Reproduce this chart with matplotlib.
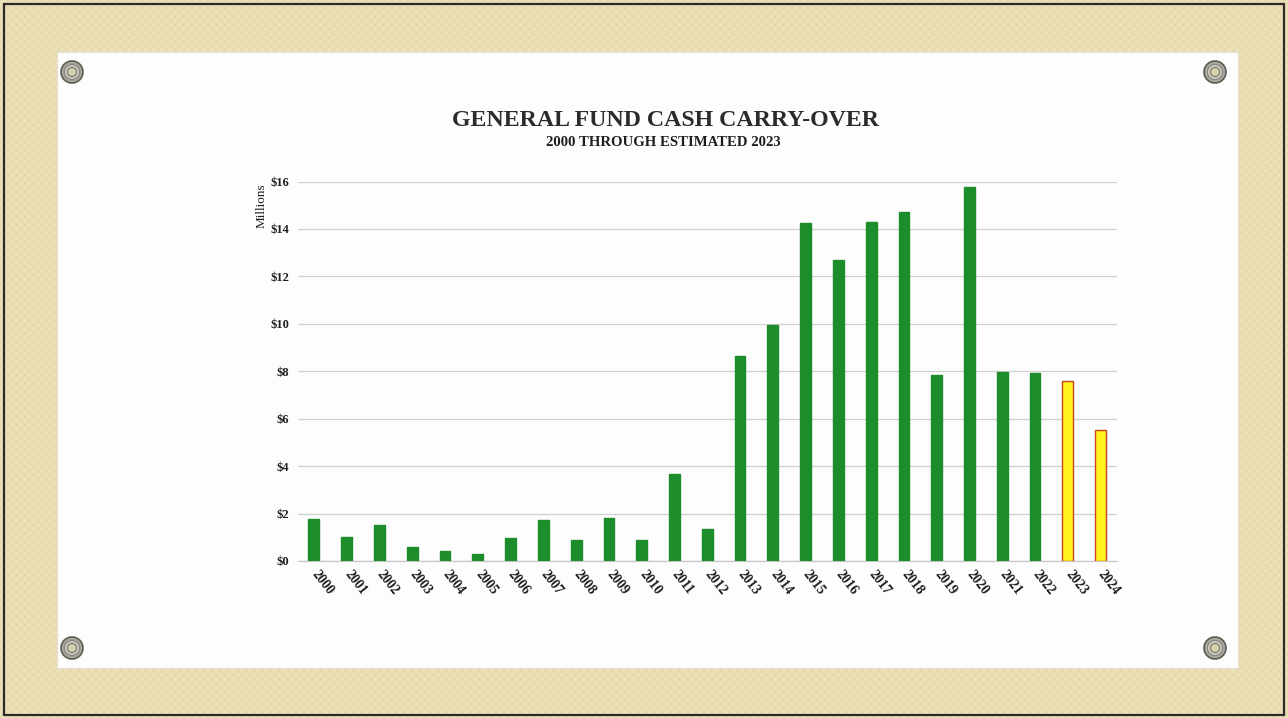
import matplotlib
matplotlib.use("Agg")
import matplotlib.pyplot as plt
from matplotlib.patches import Rectangle, Circle

# Year-end general fund carry-over, millions of dollars
years = [str(y) for y in range(2000, 2025)]
carryover = [1.76, 1.03, 1.52, 0.60, 0.42, 0.31, 0.98, 1.73, 0.87, 1.83,
             0.87, 3.66, 1.35, 8.66, 9.96, 14.23, 12.69, 14.29, 14.71, 7.83,
             15.77, 7.97, 7.93, 7.61, 5.53]
estimated = [False] * 23 + [True, True]
y_ticks = [0, 2, 4, 6, 8, 10, 12, 14, 16]
y_tick_labels = [f"${v}" for v in y_ticks]

title = "GENERAL FUND CASH CARRY-OVER"
subtitle = "2000 THROUGH ESTIMATED 2023"

W, H = 1288, 718
plt.rcParams["hatch.linewidth"] = 0.5
fig = plt.figure(figsize=(W / 100, H / 100), dpi=100)
fig.patch.set_facecolor("#ece0b8")

serif = ["Liberation Serif", "DejaVu Serif"]


def fx(px):
    return px / W


def fy(py):
    return 1 - py / H


# Canvas backdrop with a light weave, outer frame and white board
fig.add_artist(Rectangle((0, 0), 1, 1, transform=fig.transFigure, facecolor="#ece0b8",
                         edgecolor="#e3d5a8", hatch="xxxx", linewidth=0, zorder=-4))
fig.add_artist(Rectangle((fx(4), fy(715)), fx(1280), 711 / H, transform=fig.transFigure,
                         facecolor="none", edgecolor="#2a2a2a", linewidth=1.6, zorder=-3))
fig.add_artist(Rectangle((fx(57), fy(668)), fx(1238 - 57), (668 - 52) / H,
                         transform=fig.transFigure, facecolor="#fdfdfd",
                         edgecolor="#e6e0cf", linewidth=0.8, zorder=-2))

# Grommets at the board corners
for gx, gy in [(72, 72), (1215, 72), (72, 648), (1215, 648)]:
    fig.add_artist(Circle((gx, H - gy), 11, transform=None, facecolor="#a7a59b",
                          edgecolor="#5e5c55", linewidth=1.2, zorder=-1))
    fig.add_artist(Circle((gx, H - gy), 7.5, transform=None, facecolor="#cfcdc3",
                          edgecolor="#8a887f", linewidth=0.8, zorder=-1))
    fig.add_artist(Circle((gx, H - gy), 4.5, transform=None, facecolor="#d9cfa9",
                          edgecolor="#77756c", linewidth=0.8, zorder=-1))

fig.text(fx(665), fy(121), title, ha="center", va="center", fontsize=17.2,
         fontweight="bold", family=serif, color="#2b2b2b")
fig.text(fx(663), fy(142), subtitle, ha="center", va="center", fontsize=10.6,
         fontweight="bold", family=serif, color="#1e1e1e")

ax = fig.add_axes([fx(297.5), fy(561), fx(1117 - 297.5), (561 - 181.5) / H])
ax.set_zorder(2)
ax.set_facecolor("none")

x = list(range(len(years)))
colors = ["#fff21e" if e else "#1d8c2b" for e in estimated]
edges = ["#c8431e" if e else "#1d8c2b" for e in estimated]
ax.bar(x, carryover, width=0.33, color=colors, edgecolor=edges, linewidth=1.0, zorder=3)

ax.set_xlim(-0.5, len(years) - 0.5)
ax.set_ylim(0, 16)
ax.set_yticks(y_ticks)
ax.set_yticklabels(y_tick_labels, family=serif, fontsize=9, fontweight="bold",
                   color="#1e1e1e")
ax.set_xticks(x)
ax.set_xticklabels(years, rotation=-52, ha="left", va="center", rotation_mode="anchor",
                   family=serif, fontsize=9.8, fontweight="bold", color="#1e1e1e")
ax.tick_params(axis="both", length=0)
ax.tick_params(axis="y", pad=6)
ax.tick_params(axis="x", pad=8)
ax.yaxis.grid(True, color="#d0d0d0", linewidth=0.9, zorder=0)
for s in ["top", "right", "left"]:
    ax.spines[s].set_visible(False)
ax.spines["bottom"].set_color("#c8c8c8")
ax.spines["bottom"].set_linewidth(0.9)

ax.set_ylabel("Millions", family=serif, fontsize=9.5, color="#1e1e1e")
ax.yaxis.set_label_coords(-0.036, 0.935)

fig.savefig("out.png", dpi=100, facecolor=fig.get_facecolor())
